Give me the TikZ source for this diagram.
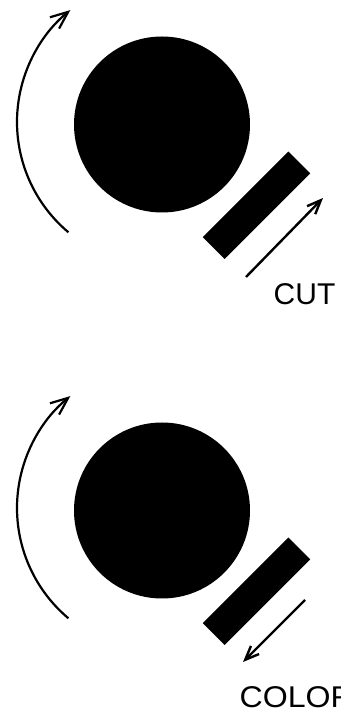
\documentclass[tikz,border=0pt]{standalone}
\usepackage{fontspec}
\setmainfont{Liberation Sans}
\newfontfamily\widefont[FakeStretch=1.07]{Liberation Sans}
\usetikzlibrary{arrows.meta}
\begin{document}
\begin{tikzpicture}[x=1bp,y=1bp,
  disc/.style={circle, fill=black, minimum size=176bp, inner sep=0pt},
  blade/.style={rectangle, fill=black, minimum width=121bp, minimum height=31bp, inner sep=0pt, rotate=45},
  turn/.style={line width=2.2bp, -{Straight Barb[angle=45:19bp]}},
  move/.style={line width=2.4bp, -{Straight Barb[angle=45:15bp]}},
  lbl/.style={inner sep=0pt, anchor=base west, font=\fontsize{30bp}{35bp}\selectfont}]
\useasboundingbox (0,0) rectangle (340,714);
\clip (0,0) rectangle (340,714);
% top panel
\node[disc] (disc1) at (162,589.5) {};
\node[blade] (blade1) at (256.5,508.75) {};
\coordinate (pivot1) at (161,592);
\draw[turn] ([shift={(230:144)}]pivot1) arc[start angle=230,end angle=129,radius=144];
\coordinate (cutA) at (246,437);
\coordinate (cutB) at (323,516);
\draw[move] (cutA) -- (cutB);
\node[lbl] (cut) at (273.5,409) {CUT};
% bottom panel
\node[disc] (disc2) at (162,203.5) {};
\node[blade] (blade2) at (256.5,122.75) {};
\coordinate (pivot2) at (161,206);
\draw[turn] ([shift={(230:144)}]pivot2) arc[start angle=230,end angle=129,radius=144];
\coordinate (colA) at (305,114);
\coordinate (colB) at (243,52);
\draw[move] (colA) -- (colB);
\node[lbl, font=\widefont\fontsize{30bp}{35bp}\selectfont] (color) at (239.5,6) {COLOR};
\end{tikzpicture}
\end{document}
